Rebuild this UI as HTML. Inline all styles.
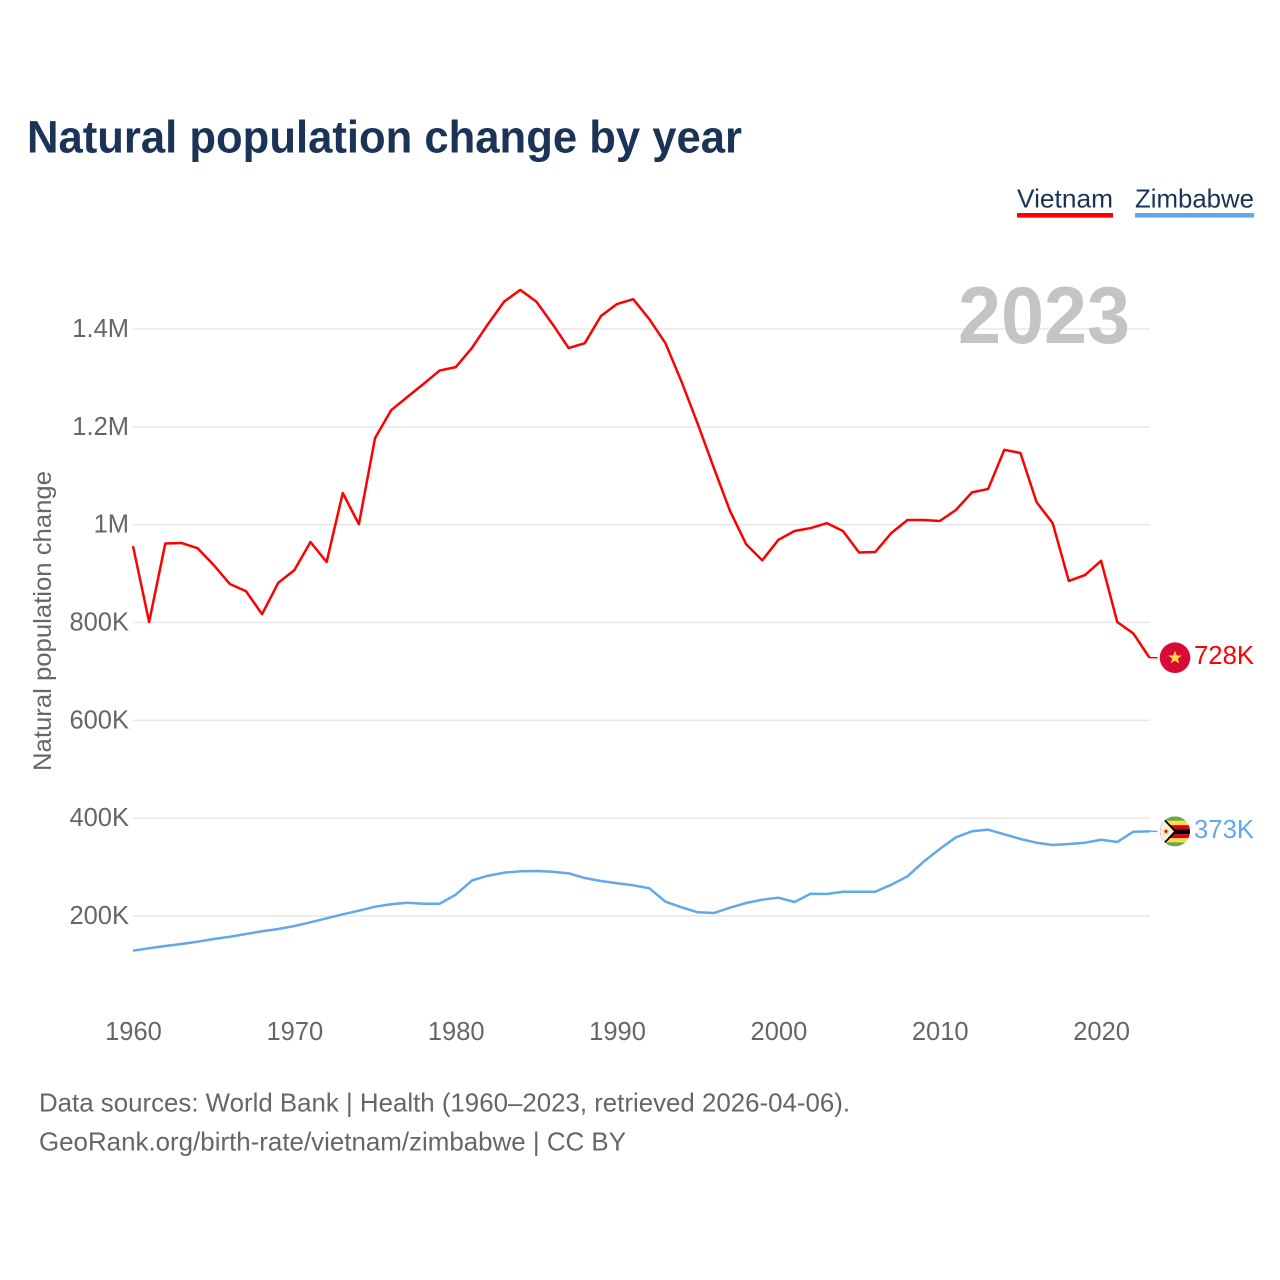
<!DOCTYPE html>
<html lang="en">
<head>
<meta charset="utf-8">
<title>Natural population change by year</title>
<style>
html,body{margin:0;padding:0;background:#fff;}
svg{display:block;}
text{font-family:"Liberation Sans",sans-serif;}
.tick{font-size:25.5px;fill:#666;}
.foot{font-size:26px;fill:#666;}
</style>
</head>
<body>
<svg id="chart" xmlns="http://www.w3.org/2000/svg" width="1280" height="1280" viewBox="0 0 1280 1280">
  <rect x="0" y="0" width="1280" height="1280" fill="#ffffff"/>
  <text x="27" y="152.5" font-size="45" font-weight="700" fill="#1a3356" textLength="715" lengthAdjust="spacingAndGlyphs">Natural population change by year</text>

  <g>
    <text x="1017" y="207.5" font-size="26" fill="#1a3356" textLength="96" lengthAdjust="spacingAndGlyphs">Vietnam</text>
    <rect x="1017" y="213" width="96" height="4.6" fill="#ff0000"/>
  </g>
  <g>
    <text x="1135" y="207.5" font-size="26" fill="#1a3356" textLength="119" lengthAdjust="spacingAndGlyphs">Zimbabwe</text>
    <rect x="1135" y="213" width="119" height="4.6" fill="#62a8ea"/>
  </g>

  <g id="grid"></g>
  <g id="yticks"></g>
  <g id="xticks"></g>

  <text x="958" y="343" font-size="81" font-weight="700" fill="#c4c4c4" textLength="172" lengthAdjust="spacingAndGlyphs">2023</text>
  <text transform="translate(51,771) rotate(-90)" font-size="25" fill="#666" textLength="300" lengthAdjust="spacingAndGlyphs">Natural population change</text>

  <g id="series"></g>

  <defs>
    <clipPath id="flag-clip"><circle cx="0" cy="0" r="15"/></clipPath>
  </defs>

  <g id="flag-vn">
    <circle cx="0" cy="0" r="15.3" fill="#d80b36"/>
    <polygon points="0,-7 1.8,-2.2 6.8,-2.2 2.8,0.9 4.3,5.8 0,2.9 -4.3,5.8 -2.8,0.9 -6.8,-2.2 -1.8,-2.2" fill="#ffda44"/>
  </g>
  <g id="flag-zw">
    <g clip-path="url(#flag-clip)">
      <rect x="-15" y="-15" width="30" height="30" fill="#f0f0f0"/>
      <rect x="-15" y="-15" width="30" height="4.5" fill="#6da544"/>
      <rect x="-15" y="-10.5" width="30" height="4.3" fill="#ffda44"/>
      <rect x="-15" y="-6.2" width="30" height="4" fill="#d80027"/>
      <rect x="-15" y="-2.2" width="30" height="5" fill="#000000"/>
      <rect x="-15" y="2.8" width="30" height="4" fill="#d80027"/>
      <rect x="-15" y="6.8" width="30" height="4.2" fill="#ffda44"/>
      <rect x="-15" y="11" width="30" height="4" fill="#6da544"/>
      <polygon points="-15,-15 -13,-15 2,0 -13,15 -15,15" fill="#000000"/>
      <polygon points="-15,-15 -15,15 -1,0" fill="#f0f0f0"/>
      <polygon points="-9,-4.5 -7.8,-1.5 -4.5,-1.5 -7,0.6 -6.2,4 -9,2 -11.8,4 -11,0.6 -13.5,-1.5 -10.2,-1.5" fill="#ffda44"/>
      <circle cx="-9" cy="0" r="1.5" fill="#d80027"/>
    </g>
  </g>

  <text id="end-vn" x="1194" font-size="25.5" fill="#ff0000" textLength="60" lengthAdjust="spacingAndGlyphs"></text>
  <text id="end-zw" x="1194" font-size="25.5" fill="#62a8ea" textLength="60" lengthAdjust="spacingAndGlyphs"></text>

  <text class="foot" x="39" y="1111.5" textLength="811" lengthAdjust="spacingAndGlyphs">Data sources: World Bank | Health (1960–2023, retrieved 2026-04-06).</text>
  <text class="foot" x="39" y="1150.5" textLength="587" lengthAdjust="spacingAndGlyphs">GeoRank.org/birth-rate/vietnam/zimbabwe | CC BY</text>
</svg>

<script>
const startYear = 1960;
const xTickYears = [1960, 1970, 1980, 1990, 2000, 2010, 2020];
const yTickValues = [200, 400, 600, 800, 1000, 1200, 1400];
const yTickLabels = ["200K", "400K", "600K", "800K", "1M", "1.2M", "1.4M"];
const vietnamValues = [956, 801, 961.5, 962.5, 952, 917.5, 878.7, 864, 817, 881, 907, 964.5, 923.6, 1064.7, 1001, 1177, 1234, 1261, 1287.5, 1315, 1322, 1361, 1410, 1456, 1480, 1456, 1410, 1361, 1371, 1426.6, 1451, 1461, 1420, 1371, 1292, 1206, 1116, 1028, 960, 927, 969, 987, 993, 1003, 987, 943, 944, 983, 1009.5, 1009.5, 1007.5, 1030, 1066, 1073, 1153, 1146.5, 1046, 1003, 885, 897, 926, 801, 777.5, 728];
const zimbabweValues = [129, 134, 138.6, 142.7, 147.4, 152.9, 157.6, 163.1, 168.7, 173.4, 179.5, 187, 195.2, 203.4, 210.8, 219, 223.9, 227.1, 225, 225, 243.5, 272.5, 282.3, 288.5, 291.3, 292, 290.5, 287.2, 277.6, 271.5, 266.8, 262.7, 256.6, 229.2, 217.7, 207.5, 206, 216.9, 226.5, 233.3, 237.4, 228.6, 245.5, 244.9, 249.6, 249.6, 249.6, 263.9, 281.1, 311, 336.9, 360.8, 373.1, 376.4, 367, 357.4, 349.8, 345.1, 347.1, 349.8, 355.9, 351.2, 372.3, 373];
const vietnamEndLabel = "728K";
const zimbabweEndLabel = "373K";

const NS = "http://www.w3.org/2000/svg";
function xScale(year) { return 133 + (year - 1960) * 16.135; }
function yScale(v) { return 1013.8 - v * 0.48915; }
function make(tag, attrs, parent) {
  const el = document.createElementNS(NS, tag);
  for (const k in attrs) el.setAttribute(k, attrs[k]);
  parent.appendChild(el);
  return el;
}
const gridG = document.getElementById("grid");
const yG = document.getElementById("yticks");
const xG = document.getElementById("xticks");
const seriesG = document.getElementById("series");

yTickValues.forEach(function (v, i) {
  const line = make("line", { x1: 133, x2: 1150, y1: yScale(v), y2: yScale(v), stroke: "#e9e9e9", "stroke-width": 1.6 }, gridG);
  
  
  const t = make("text", { x: 129, y: yScale(v) + 8, "text-anchor": "end", "class": "tick" }, yG);
  
  
  t.textContent = yTickLabels[i];
});

xTickYears.forEach(function (yr) {
  const t = make("text", { x: xScale(yr) + 0.5, y: 1040, "text-anchor": "middle", "class": "tick" }, xG);
  
  
  t.textContent = yr;
});

function drawSeries(values, colour) {
  const pts = values.map(function (v, i) {
    return xScale(startYear + i).toFixed(2) + "," + yScale(v).toFixed(2);
  }).join(" ");
  const line = make("polyline", { points: pts, fill: "none", stroke: colour, "stroke-width": 2.5, "stroke-linejoin": "round" }, seriesG);
  
  
  const last = values[values.length - 1];
  const lx = xScale(startYear + values.length - 1);
  const conn = make("line", { x1: lx, x2: lx + 8, y1: yScale(last), y2: yScale(last), stroke: colour, "stroke-width": 1.5 }, seriesG);
  
  
}
drawSeries(vietnamValues, "#ff0000");
drawSeries(zimbabweValues, "#62a8ea");

function placeEnd(flagId, labelId, values, label) {
  const y = yScale(values[values.length - 1]);
  document.getElementById(flagId).setAttribute("transform", "translate(1175," + y.toFixed(2) + ")");
  const t = document.getElementById(labelId);
  t.setAttribute("y", (y + 6.5).toFixed(2));
  t.textContent = label;
}
placeEnd("flag-vn", "end-vn", vietnamValues, vietnamEndLabel);
placeEnd("flag-zw", "end-zw", zimbabweValues, zimbabweEndLabel);
</script>
</body>
</html>
